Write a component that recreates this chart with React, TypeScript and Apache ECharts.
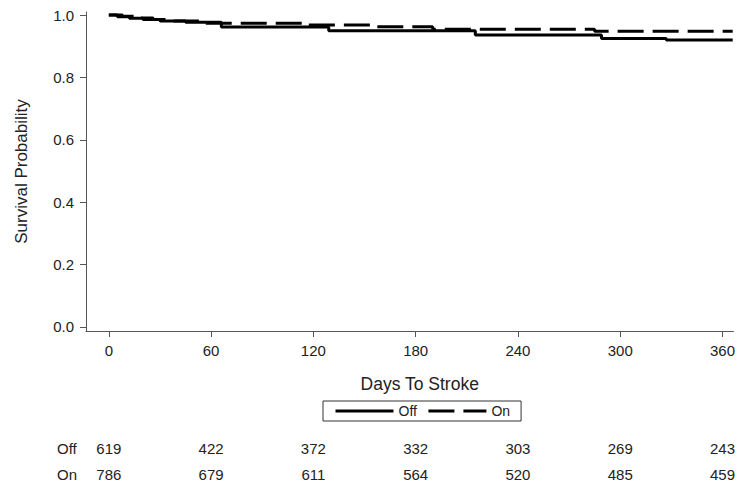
import React, { useEffect, useRef } from "react";
import * as echarts from "echarts";

const dayTicks = [0, 60, 120, 180, 240, 300, 360];
const probTicks = [0, 0.2, 0.4, 0.6, 0.8, 1.0];
const offDays = [0, 5, 12, 20, 30, 45, 66, 129, 215, 289, 327, 366];
const offSurv = [1, 0.995, 0.99, 0.986, 0.981, 0.977, 0.962, 0.95, 0.936, 0.925, 0.92, 0.92];
const onDays = [0, 8, 16, 26, 38, 55, 115, 154, 190, 285, 366];
const onSurv = [1, 0.996, 0.991, 0.986, 0.981, 0.974, 0.968, 0.963, 0.955, 0.948, 0.948];
const offAtRisk = [619, 422, 372, 332, 303, 269, 243];
const onAtRisk = [786, 679, 611, 564, 520, 485, 459];

const FONT = "'Liberation Sans', Arial, sans-serif";
const TXT = "#222";
const AX = "#555";
const X_MIN = -13.4;
const X_MAX = 366.4;
const DASH = [26, 9];

export default function App() {
  const ref = useRef<HTMLDivElement>(null);
  useEffect(() => {
    if (!ref.current) return;
    const chart = echarts.init(ref.current, null, { renderer: "svg" });
    const riskAxis = (counts: number[], margin: number) => ({
      type: "value",
      position: "bottom",
      min: X_MIN,
      max: X_MAX,
      axisLine: { show: false },
      axisTick: { show: false },
      splitLine: { show: false },
      axisLabel: {
        customValues: dayTicks,
        margin,
        color: TXT,
        fontSize: 15,
        fontFamily: FONT,
        formatter: (v: number) => {
          const i = dayTicks.indexOf(Math.round(v));
          return i >= 0 ? String(counts[i]) : "";
        },
      },
    });
    chart.setOption({
      animation: false,
      grid: { left: 86, right: 0, top: 12, bottom: 156 },
      legend: {
        data: [
          { name: "Off", lineStyle: { type: "solid", width: 3, color: "#000" } },
          { name: "On", lineStyle: { type: DASH, width: 3, color: "#000" } },
        ],
        left: 323,
        top: 401,
        orient: "horizontal",
        itemWidth: 58,
        itemHeight: 14,
        itemGap: 10,
        padding: [3, 11],
        borderColor: "#333",
        borderWidth: 1,
        borderRadius: 0,
        itemStyle: { opacity: 0 },
        textStyle: { color: TXT, fontSize: 14, fontFamily: FONT },
      },
      xAxis: [
        {
          type: "value",
          min: X_MIN,
          max: X_MAX,
          name: "Days To Stroke",
          nameLocation: "middle",
          nameGap: 44,
          nameTextStyle: { color: TXT, fontSize: 17.5, fontFamily: FONT, padding: [0, 0, 0, 20] },
          axisLine: { show: true, onZero: false, lineStyle: { color: AX, width: 1 } },
          axisTick: { show: true, customValues: dayTicks, length: 6, lineStyle: { color: AX } },
          axisLabel: { customValues: dayTicks, margin: 12, color: TXT, fontSize: 15, fontFamily: FONT },
          splitLine: { show: false },
        },
        riskAxis(offAtRisk, 110),
        riskAxis(onAtRisk, 136),
      ],
      yAxis: {
        type: "value",
        min: -0.013,
        max: 1.01,
        name: "Survival Probability",
        nameLocation: "middle",
        nameGap: 56,
        nameTextStyle: { color: TXT, fontSize: 17, fontFamily: FONT },
        axisLine: { show: true, onZero: false, lineStyle: { color: AX, width: 1 } },
        axisTick: { show: true, customValues: probTicks, length: 6, lineStyle: { color: AX } },
        axisLabel: {
          customValues: probTicks,
          margin: 12,
          color: TXT,
          fontSize: 15,
          fontFamily: FONT,
          formatter: (v: number) => v.toFixed(1),
        },
        splitLine: { show: false },
      },
      graphic: [
        { type: "text", left: 57, top: 441, style: { text: "Off", fill: TXT, font: `15px ${FONT}` } },
        { type: "text", left: 57, top: 467, style: { text: "On", fill: TXT, font: `15px ${FONT}` } },
      ],
      series: [
        {
          name: "Off",
          type: "line",
          step: "end",
          symbol: "none",
          xAxisIndex: 0,
          data: offDays.map((d, i) => [d, offSurv[i]]),
          lineStyle: { color: "#000", width: 3, type: "solid" },
          itemStyle: { color: "#000" },
        },
        {
          name: "On",
          type: "line",
          step: "end",
          symbol: "none",
          xAxisIndex: 0,
          data: onDays.map((d, i) => [d, onSurv[i]]),
          lineStyle: { color: "#000", width: 3, type: DASH, cap: "butt" },
          itemStyle: { color: "#000" },
        },
      ],
    });
    return () => chart.dispose();
  }, []);
  return (
    <div
      ref={ref}
      style={{ position: "fixed", left: 0, top: 0, width: 738, height: 487, background: "#fff" }}
    />
  );
}
